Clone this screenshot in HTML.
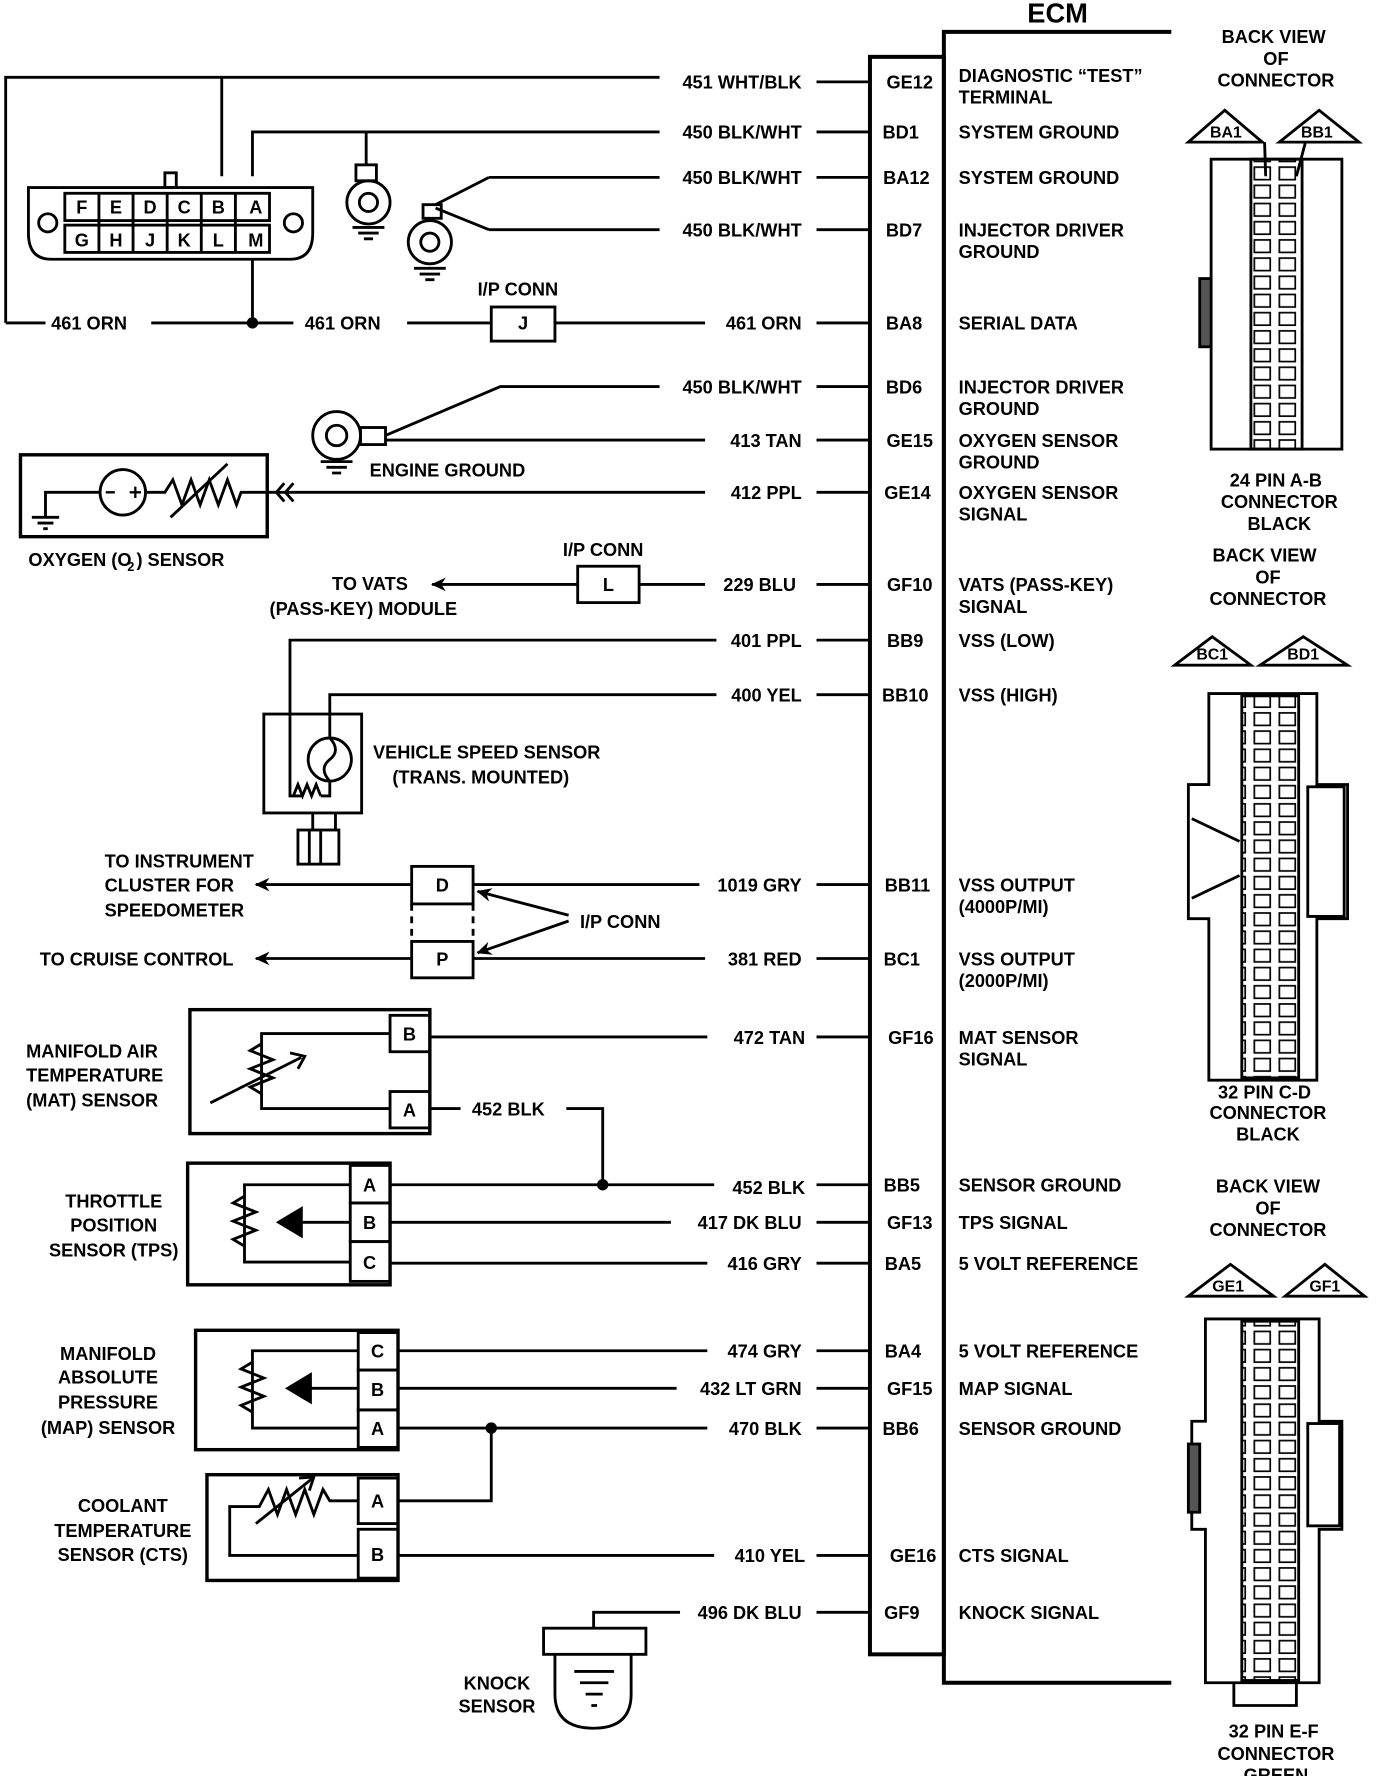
<!DOCTYPE html>
<html><head><meta charset="utf-8"><style>
html,body{margin:0;padding:0;background:#fff;}
svg{display:block;}
text{font-family:"Liberation Sans",sans-serif;font-weight:bold;font-size:16px;fill:#000;}
</style></head><body>
<svg width="1376" height="1776" viewBox="0 0 1210 1562" preserveAspectRatio="none" xmlns="http://www.w3.org/2000/svg">
<defs>
<pattern id="grid" x="0" y="0" width="22" height="16" patternUnits="userSpaceOnUse">
<rect x="3" y="3" width="14" height="11" fill="none" stroke="#000" stroke-width="1.5"/>
</pattern>
<marker id="arr" markerWidth="14" markerHeight="12" refX="12" refY="6" orient="auto" markerUnits="userSpaceOnUse">
<path d="M0,0 L13,6 L0,12 L4,6 Z" fill="#000"/>
</marker>
</defs>
<g stroke="#000" stroke-width="2.5" fill="none">
<rect x="765" y="50" width="65" height="1405" stroke-width="3.5"/>
<path d="M1030,28 H830 V1480 H1030" stroke-width="3.5"/>
<path d="M718,72H765 M718,116H765 M718,156H765 M718,202H765 M718,284H765 M718,340H765 M718,387H765 M718,433H765 M718,514H765 M718,563H765 M718,611H765 M718,778H765 M718,843H765 M718,912H765 M718,1042H765 M718,1075H765 M718,1111H765 M718,1188H765 M718,1221H765 M718,1256H765 M718,1368H765 M718,1418H765"/>
<path d="M195,155 V68 H580"/>
<path d="M5,284 V68 H195"/>
<path d="M5,284 H40"/>
<path d="M222,155 V116 H580"/>
<path d="M322,116 V145"/>
<path d="M40,165 H275 V205 Q275,228 255,228 H45 Q25,228 25,205 V165 Z"/>
<rect x="145" y="152" width="10" height="13"/>
<circle cx="42" cy="196" r="8"/><circle cx="258" cy="196" r="8"/>
<rect x="57" y="170" width="180" height="24"/>
<rect x="57" y="198" width="180" height="24"/>
<path d="M87,170V222 M117,170V222 M147,170V222 M177,170V222 M207,170V222"/>
<rect x="313" y="145" width="18" height="14"/>
<circle cx="324" cy="178" r="19"/><circle cx="324" cy="178" r="8"/>
<path d="M310,200H338 M315,205H333 M320,210H328"/>
<path d="M430,156 H580 M430,202 H580 M383,180 L430,156 M383,183 L430,202"/>
<rect x="372" y="180" width="16" height="12"/>
<circle cx="378" cy="213" r="19"/><circle cx="378" cy="213" r="8"/>
<path d="M364,236H392 M369,241H387 M374,246H382"/>
<path d="M133,284 H258 M222,228 V284 M358,284 H432 M488,284 H620"/>
<rect x="432" y="270" width="56" height="30"/>
<circle cx="296" cy="383" r="21"/><circle cx="296" cy="383" r="9"/>
<rect x="317" y="376" width="22" height="15"/>
<path d="M282,406H310 M287,411H305 M292,416H300"/>
<path d="M339,383 L440,340 H580 M339,387 H620"/>
<rect x="18" y="400" width="217" height="72" stroke-width="3"/>
<path d="M235,433 H620"/>
<path d="M250,425 L243,433 L250,441 M258,425 L251,433 L258,441"/>
<circle cx="108" cy="433" r="20"/>
<path d="M88,433 H40 V455 M28,455H52 M33,460H47 M38,465H42"/>
<path d="M128,433 H145 L152,422 L160,444 L168,422 L176,444 L184,422 L192,444 L200,422 L208,444 L212,433 H235"/>
<path d="M150,455 L200,408"/>
<path d="M93,433H101 M114,433H124 M119,428V438" stroke-width="2"/>
<rect x="508" y="498" width="54" height="32"/>
<path d="M562,514 H620"/>
<path d="M508,514 H380" marker-end="url(#arr)"/>
<path d="M255,630 V563 H630 M290,630 V611 H630"/>
<rect x="232" y="628" width="86" height="87"/>
<path d="M255,630 V700 H265 M290,630 V650"/>
<circle cx="290" cy="668" r="19"/>
<path d="M290,649 Q300,660 290,668 Q280,676 290,687"/>
<path d="M258,700 L262,690 L266,700 L270,690 L274,700 L278,690 L282,700 M290,687 V700 H282"/>
<path d="M275,715 V730 M295,715 V730"/>
<rect x="262" y="730" width="36" height="30"/>
<path d="M272,730V760 M282,730V760"/>
<rect x="362" y="762" width="54" height="33"/>
<rect x="362" y="828" width="54" height="32"/>
<path d="M362,795V828 M416,795V828" stroke-dasharray="6,5"/>
<path d="M416,778 H615 M416,843 H620"/>
<path d="M362,778 H225" marker-end="url(#arr)"/>
<path d="M362,843 H225" marker-end="url(#arr)"/>
<path d="M500,805 L420,784" marker-end="url(#arr)"/>
<path d="M500,810 L420,838" marker-end="url(#arr)"/>
<rect x="167" y="888" width="211" height="109" stroke-width="3"/>
<rect x="343" y="893" width="35" height="32"/>
<rect x="343" y="960" width="35" height="32"/>
<path d="M343,909 H230 V975 H343"/>
<path d="M230,918 L220,924 L240,932 L220,940 L240,948 L220,956 L230,962"/>
<path d="M185,970 L265,930"/>
<path d="M255,926 L268,929 L262,940"/>
<path d="M378,912 H622 M378,975 H405 M498,975 H530 V1042"/>
<rect x="165" y="1023" width="178" height="107" stroke-width="3"/>
<rect x="308" y="1025" width="35" height="33"/>
<rect x="308" y="1058" width="35" height="34"/>
<rect x="308" y="1092" width="35" height="35"/>
<path d="M308,1042 H215 V1110 H308"/>
<path d="M215,1052 L205,1058 L225,1066 L205,1074 L225,1082 L205,1090 L215,1096"/>
<path d="M308,1075 H260"/>
<path d="M245,1075 L265,1063 L265,1087 Z" fill="#000"/>
<path d="M343,1042 H628 M343,1075 H590 M343,1111 H622"/>
<rect x="172" y="1170" width="178" height="105" stroke-width="3"/>
<rect x="315" y="1172" width="35" height="33"/>
<rect x="315" y="1205" width="35" height="35"/>
<rect x="315" y="1240" width="35" height="33"/>
<path d="M315,1188 H222 V1256 H315"/>
<path d="M222,1198 L212,1204 L232,1212 L212,1220 L232,1228 L212,1236 L222,1242"/>
<path d="M315,1221 H268"/>
<path d="M253,1221 L273,1209 L273,1233 Z" fill="#000"/>
<path d="M350,1188 H622 M350,1221 H595 M350,1256 H622 M432,1256 V1320 H350"/>
<rect x="182" y="1297" width="168" height="93" stroke-width="3"/>
<rect x="315" y="1300" width="35" height="40"/>
<rect x="315" y="1345" width="35" height="43"/>
<path d="M315,1320 H290 L284,1310 L276,1332 L268,1310 L260,1332 L252,1310 L244,1332 L236,1310 L228,1325 H202 V1368 H315"/>
<path d="M225,1340 L275,1300"/>
<path d="M263,1300 L276,1299 L272,1311"/>
<path d="M350,1368 H628"/>
<path d="M598,1418 H522 V1432"/>
<rect x="478" y="1432" width="90" height="23"/>
<path d="M488,1455 V1490 Q488,1520 522,1520 Q555,1520 555,1490 V1455"/>
<path d="M505,1470H540 M510,1480H535 M515,1490H530 M520,1500H525"/>
</g>
<g fill="#000">
<circle cx="222" cy="284" r="5"/><circle cx="530" cy="1042" r="5"/><circle cx="432" cy="1256" r="5"/>
</g>
<g stroke="#000" stroke-width="2.5" fill="none">
<path d="M1045,125 L1077,97 L1110,125 Z M1125,125 L1160,97 L1195,125 Z"/>
<rect x="1065" y="140" width="115" height="255"/>
<rect x="1100" y="140" width="45" height="255" fill="url(#grid)"/>
<rect x="1055" y="245" width="10" height="60" fill="#555"/>
<path d="M1112,125 L1113,155 M1148,125 L1140,155"/>
<path d="M1033,585 L1066,560 L1100,585 Z M1108,585 L1146,560 L1185,585 Z"/>
<path d="M1063,610 H1158 V690 H1185 V808 H1158 V950 H1063 V808 H1045 V690 H1063 Z"/>
<rect x="1092" y="612" width="50" height="336" fill="url(#grid)"/>
<rect x="1150" y="692" width="32" height="114"/>
<path d="M1048,720 L1090,740 M1048,790 L1090,770"/>
<path d="M1045,1140 L1082,1112 L1120,1140 Z M1130,1140 L1165,1112 L1200,1140 Z"/>
<path d="M1060,1160 H1160 V1250 H1180 V1345 H1160 V1480 H1060 V1345 H1048 V1250 H1060 Z"/>
<rect x="1092" y="1162" width="50" height="316" fill="url(#grid)"/>
<rect x="1150" y="1252" width="28" height="90"/>
<rect x="1045" y="1270" width="10" height="60" fill="#555"/>
<path d="M1085,1480 V1500 H1140 V1480"/>
</g>
<g>
<text x="930" y="20" text-anchor="middle" style="font-size:24px">ECM</text>
<g text-anchor="end">
<text x="705" y="78">451 WHT/BLK</text>
<text x="705" y="122">450 BLK/WHT</text>
<text x="705" y="162">450 BLK/WHT</text>
<text x="705" y="208">450 BLK/WHT</text>
<text x="705" y="290">461 ORN</text>
<text x="705" y="346">450 BLK/WHT</text>
<text x="705" y="393">413 TAN</text>
<text x="705" y="439">412 PPL</text>
<text x="700" y="520">229 BLU</text>
<text x="705" y="569">401 PPL</text>
<text x="705" y="617">400 YEL</text>
<text x="705" y="784">1019 GRY</text>
<text x="705" y="849">381 RED</text>
<text x="708" y="918">472 TAN</text>
<text x="708" y="1050">452 BLK</text>
<text x="705" y="1081">417 DK BLU</text>
<text x="705" y="1117">416 GRY</text>
<text x="705" y="1194">474 GRY</text>
<text x="705" y="1227">432 LT GRN</text>
<text x="705" y="1262">470 BLK</text>
<text x="708" y="1374">410 YEL</text>
<text x="705" y="1424">496 DK BLU</text>
</g>
<g text-anchor="middle">
<text x="800" y="78">GE12</text><text x="792" y="122">BD1</text><text x="797" y="162">BA12</text><text x="795" y="208">BD7</text>
<text x="795" y="290">BA8</text><text x="795" y="346">BD6</text><text x="800" y="393">GE15</text><text x="798" y="439">GE14</text>
<text x="800" y="520">GF10</text><text x="796" y="569">BB9</text><text x="796" y="617">BB10</text><text x="798" y="784">BB11</text>
<text x="793" y="849">BC1</text><text x="801" y="918">GF16</text><text x="793" y="1048">BB5</text><text x="800" y="1081">GF13</text>
<text x="794" y="1117">BA5</text><text x="794" y="1194">BA4</text><text x="800" y="1227">GF15</text><text x="792" y="1262">BB6</text>
<text x="803" y="1374">GE16</text><text x="793" y="1424">GF9</text>
</g>
<text x="843" y="72">DIAGNOSTIC “TEST”</text><text x="843" y="91">TERMINAL</text>
<text x="843" y="122">SYSTEM GROUND</text>
<text x="843" y="162">SYSTEM GROUND</text>
<text x="843" y="208">INJECTOR DRIVER</text><text x="843" y="227">GROUND</text>
<text x="843" y="290">SERIAL DATA</text>
<text x="843" y="346">INJECTOR DRIVER</text><text x="843" y="365">GROUND</text>
<text x="843" y="393">OXYGEN SENSOR</text><text x="843" y="412">GROUND</text>
<text x="843" y="439">OXYGEN SENSOR</text><text x="843" y="458">SIGNAL</text>
<text x="843" y="520">VATS (PASS-KEY)</text><text x="843" y="539">SIGNAL</text>
<text x="843" y="569">VSS (LOW)</text>
<text x="843" y="617">VSS (HIGH)</text>
<text x="843" y="784">VSS OUTPUT</text><text x="843" y="803">(4000P/MI)</text>
<text x="843" y="849">VSS OUTPUT</text><text x="843" y="868">(2000P/MI)</text>
<text x="843" y="918">MAT SENSOR</text><text x="843" y="937">SIGNAL</text>
<text x="843" y="1048">SENSOR GROUND</text>
<text x="843" y="1081">TPS SIGNAL</text>
<text x="843" y="1117">5 VOLT REFERENCE</text>
<text x="843" y="1194">5 VOLT REFERENCE</text>
<text x="843" y="1227">MAP SIGNAL</text>
<text x="843" y="1262">SENSOR GROUND</text>
<text x="843" y="1374">CTS SIGNAL</text>
<text x="843" y="1424">KNOCK SIGNAL</text>
<text x="45" y="290">461 ORN</text>
<text x="268" y="290">461 ORN</text>
<text x="420" y="260">I/P CONN</text>
<text x="460" y="290" text-anchor="middle">J</text>
<g text-anchor="middle">
<text x="72" y="188">F</text><text x="102" y="188">E</text><text x="132" y="188">D</text><text x="162" y="188">C</text><text x="192" y="188">B</text><text x="225" y="188">A</text>
<text x="72" y="217">G</text><text x="102" y="217">H</text><text x="132" y="217">J</text><text x="162" y="217">K</text><text x="192" y="217">L</text><text x="225" y="217">M</text>
</g>
<text x="325" y="419">ENGINE GROUND</text>
<text x="25" y="498">OXYGEN (O</text><text x="112" y="502" style="font-size:11px">2</text><text x="120" y="498">) SENSOR</text>
<text x="495" y="489">I/P CONN</text>
<text x="535" y="520" text-anchor="middle">L</text>
<text x="292" y="519">TO VATS</text>
<text x="237" y="541">(PASS-KEY) MODULE</text>
<text x="328" y="667">VEHICLE SPEED SENSOR</text>
<text x="345" y="689">(TRANS. MOUNTED)</text>
<text x="92" y="763">TO INSTRUMENT</text>
<text x="92" y="784">CLUSTER FOR</text>
<text x="92" y="806">SPEEDOMETER</text>
<text x="389" y="784" text-anchor="middle">D</text>
<text x="389" y="849" text-anchor="middle">P</text>
<text x="510" y="816">I/P CONN</text>
<text x="35" y="849">TO CRUISE CONTROL</text>
<text x="360" y="915" text-anchor="middle">B</text><text x="360" y="982" text-anchor="middle">A</text>
<text x="415" y="981">452 BLK</text>
<text x="23" y="930">MANIFOLD AIR</text><text x="23" y="951">TEMPERATURE</text><text x="23" y="973">(MAT) SENSOR</text>
<text x="325" y="1048" text-anchor="middle">A</text><text x="325" y="1081" text-anchor="middle">B</text><text x="325" y="1116" text-anchor="middle">C</text>
<g text-anchor="middle">
<text x="100" y="1062">THROTTLE</text><text x="100" y="1083">POSITION</text><text x="100" y="1105">SENSOR (TPS)</text>
<text x="95" y="1196">MANIFOLD</text><text x="95" y="1217">ABSOLUTE</text><text x="95" y="1239">PRESSURE</text><text x="95" y="1261">(MAP) SENSOR</text>
<text x="108" y="1330">COOLANT</text><text x="108" y="1352">TEMPERATURE</text><text x="108" y="1373">SENSOR (CTS)</text>
<text x="332" y="1194">C</text><text x="332" y="1228">B</text><text x="332" y="1262">A</text>
<text x="332" y="1326">A</text><text x="332" y="1373">B</text>
<text x="437" y="1486">KNOCK</text><text x="437" y="1506">SENSOR</text>
<text x="1120" y="38">BACK VIEW</text><text x="1122" y="57">OF</text><text x="1122" y="76">CONNECTOR</text>
<text x="1078" y="121" style="font-size:14px">BA1</text><text x="1158" y="121" style="font-size:14px">BB1</text>
<text x="1122" y="428">24 PIN A-B</text><text x="1125" y="447">CONNECTOR</text><text x="1125" y="466">BLACK</text>
<text x="1112" y="494">BACK VIEW</text><text x="1115" y="513">OF</text><text x="1115" y="532">CONNECTOR</text>
<text x="1066" y="580" style="font-size:14px">BC1</text><text x="1146" y="580" style="font-size:14px">BD1</text>
<text x="1112" y="966">32 PIN C-D</text><text x="1115" y="984">CONNECTOR</text><text x="1115" y="1003">BLACK</text>
<text x="1115" y="1049">BACK VIEW</text><text x="1115" y="1068">OF</text><text x="1115" y="1087">CONNECTOR</text>
<text x="1080" y="1136" style="font-size:14px">GE1</text><text x="1165" y="1136" style="font-size:14px">GF1</text>
<text x="1120" y="1528">32 PIN E-F</text><text x="1122" y="1548">CONNECTOR</text><text x="1122" y="1567">GREEN</text>
</g>
</g>
</svg>
</body></html>
